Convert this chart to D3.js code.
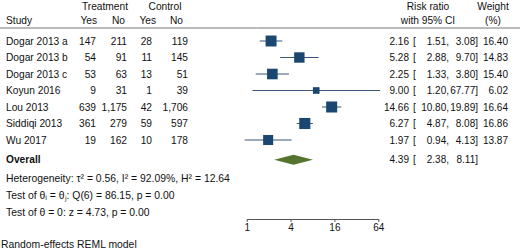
<!DOCTYPE html>
<html>
<head>
<meta charset="utf-8">
<script src="https://cdn.jsdelivr.net/npm/d3@7"></script>
<style>
  body { margin: 0; background: #fff; }
  svg text { font-family: "Liberation Sans", Arial, sans-serif; font-size: 10.2px; fill: #111; }
  svg text.num { font-size: 10px; }
  svg text.note { font-size: 10.4px; }
</style>
</head>
<body>
<div id="chart"></div>
<script>
// study rows
const studies = ["Dogar 2013 a", "Dogar 2013 b", "Dogar 2013 c", "Koyun 2016", "Lou 2013", "Siddiqi 2013", "Wu 2017"];
const treatYes = ["147", "54", "53", "9", "639", "361", "19"];
const treatNo = ["211", "91", "63", "31", "1,175", "279", "162"];
const ctrlYes = ["28", "11", "13", "1", "42", "59", "10"];
const ctrlNo = ["119", "145", "51", "39", "1,706", "597", "178"];
const rr = [2.16, 5.28, 2.25, 9.00, 14.66, 6.27, 1.97];
const lo = [1.51, 2.88, 1.33, 1.20, 10.80, 4.87, 0.94];
const hi = [3.08, 9.70, 3.80, 67.77, 19.89, 8.08, 4.13];
const weight = [16.40, 14.83, 15.40, 6.02, 16.64, 16.86, 13.87];
const overall = {rr: 4.39, lo: 2.38, hi: 8.11};
const ticks = [1, 4, 16, 64];
const notes = [
  "Heterogeneity: \u03c4\u00b2 = 0.56, I\u00b2 = 92.09%, H\u00b2 = 12.64",
  "Test of \u03b8\u1d62 = \u03b8\u2c7c: Q(6) = 86.15, p = 0.00",
  "Test of \u03b8 = 0: z = 4.73, p = 0.00"
];

const width = 520, height = 250;
const svg = d3.select("#chart").append("svg")
  .attr("width", width).attr("height", height);

const x = d3.scaleLog().domain([1, 64]).range([246.7, 378.3]);
const y = d3.scaleLinear().domain([0, 1]).range([41, 57.5]);
const side = d3.scaleSqrt().domain([0, 1]).range([0, 2.7]);
const f2 = d3.format(".2f");

// column anchors of the right-hand table
const colRR = 409, colBr = 413, colLo = 449, colHi = 478, colW = 508;

// header
const hdr = svg.append("g");
const htext = (xp, yp, anchor, t) => hdr.append("text").attr("x", xp).attr("y", yp)
  .attr("text-anchor", anchor).attr("dy", "0.35em").text(t);
htext(105, 6, "middle", "Treatment");
htext(165, 6, "middle", "Control");
htext(428, 6, "middle", "Risk ratio");
htext(493, 6, "middle", "Weight");
htext(6, 20, "start", "Study");
[[97, "Yes"], [125, "No"], [156, "Yes"], [183, "No"]].forEach(d => htext(d[0], 20, "end", d[1]));
htext(428, 20, "middle", "with 95% CI");
htext(493, 20, "middle", "(%)");

svg.append("line").attr("x1", 0).attr("x2", width).attr("y1", 28).attr("y2", 28)
  .attr("stroke", "#777").attr("stroke-width", 1);

// table columns
const rows = svg.append("g").selectAll("g").data(studies).join("g")
  .attr("transform", (d, i) => `translate(0,${y(i)})`);
const cell = (sel, xp, anchor, fn, cls) => sel.append("text").attr("x", xp).attr("dy", "0.35em")
  .attr("class", cls || null).attr("text-anchor", anchor).text(fn);
cell(rows, 6, "start", d => d);
cell(rows, 96, "end", (d, i) => treatYes[i]);
cell(rows, 127, "end", (d, i) => treatNo[i]);
cell(rows, 152, "end", (d, i) => ctrlYes[i]);
cell(rows, 188, "end", (d, i) => ctrlNo[i]);
cell(rows, colRR, "end", (d, i) => f2(rr[i]), "num");
cell(rows, colBr, "start", () => "[", "num");
cell(rows, colLo, "end", (d, i) => f2(lo[i]) + ",", "num");
cell(rows, colHi, "end", (d, i) => f2(hi[i]) + "]", "num");
cell(rows, colW, "end", (d, i) => f2(weight[i]), "num");

// CI lines and boxes
rows.append("line")
  .attr("x1", (d, i) => x(lo[i]))
  .attr("x2", (d, i) => x(hi[i]))
  .attr("stroke", "#3b5577").attr("stroke-width", 1);
rows.append("rect")
  .attr("x", (d, i) => x(rr[i]) - side(weight[i]) / 2)
  .attr("y", (d, i) => -side(weight[i]) / 2)
  .attr("width", (d, i) => side(weight[i]))
  .attr("height", (d, i) => side(weight[i]))
  .attr("fill", "#1a476f");

// overall
const oy = y(7.2);
svg.append("text").attr("x", 6).attr("y", oy).attr("dy", "0.35em")
  .style("font-weight", "bold").text("Overall");
svg.append("path")
  .attr("d", `M${x(overall.lo)},${oy} L${x(overall.rr)},${oy - 5} L${x(overall.hi)},${oy} L${x(overall.rr)},${oy + 5} Z`)
  .attr("fill", "#55752f");
const og = svg.append("g").attr("transform", `translate(0,${oy})`);
cell(og, colRR, "end", f2(overall.rr), "num");
cell(og, colBr, "start", "[", "num");
cell(og, colLo, "end", f2(overall.lo) + ",", "num");
cell(og, colHi, "end", f2(overall.hi) + "]", "num");

// notes
notes.forEach((t, i) => {
  svg.append("text").attr("class", "note").attr("x", 6).attr("y", 178 + i * 17).attr("dy", "0.35em").text(t);
});
svg.append("text").attr("class", "note").attr("x", 1).attr("y", 244).attr("dy", "0.35em").text("Random-effects REML model");

// axis
const axis = svg.append("g").attr("transform", "translate(0,219)")
  .call(d3.axisBottom(x).tickValues(ticks).tickFormat(d3.format("d")).tickSize(3).tickSizeOuter(0));
axis.select(".domain").attr("stroke", "#555");
axis.selectAll(".tick line").attr("stroke", "#555");
axis.selectAll(".tick text").attr("y", 5).style("font-size", "10px").attr("fill", "#111");
</script>
</body>
</html>
